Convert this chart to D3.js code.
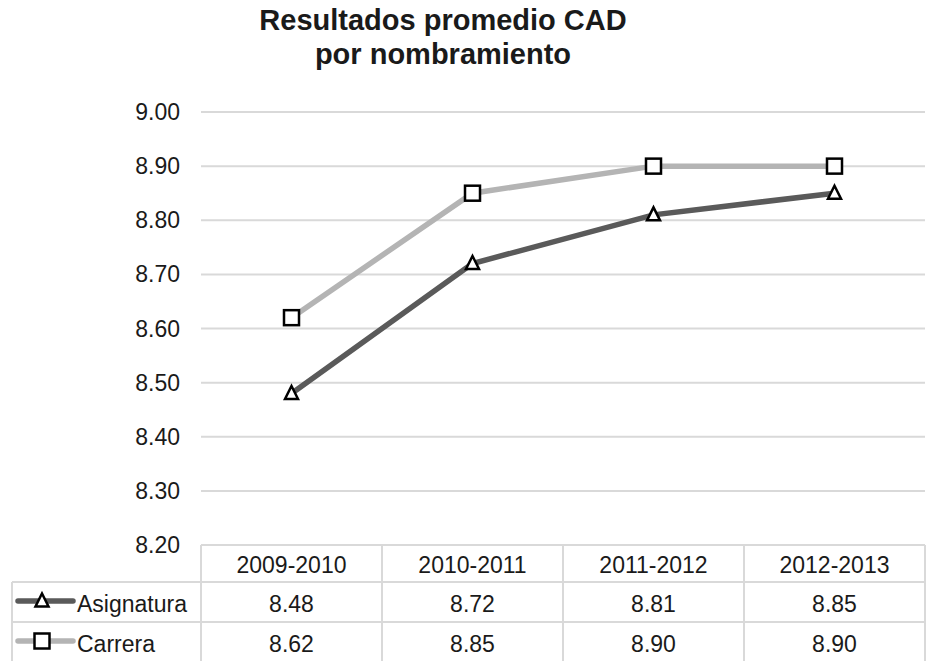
<!DOCTYPE html>
<html>
<head>
<meta charset="utf-8">
<script src="https://cdn.jsdelivr.net/npm/d3@7"></script>
<style>
  body { margin: 0; background: #fff; }
  text { font-family: "Liberation Sans", Arial, sans-serif; fill: #1a1a1a; }
</style>
</head>
<body>
<svg width="926" height="661"></svg>
<script>
var years = ["2009-2010", "2010-2011", "2011-2012", "2012-2013"];
var asignatura = [8.48, 8.72, 8.81, 8.85];
var carrera = [8.62, 8.85, 8.90, 8.90];
var yTicks = [8.2, 8.3, 8.4, 8.5, 8.6, 8.7, 8.8, 8.9, 9.0];

var series = [
  {name: "Asignatura", values: asignatura, color: "#5a5a5a", marker: "triangle"},
  {name: "Carrera", values: carrera, color: "#b4b4b4", marker: "square"}
];

var svg = d3.select("svg"),
    width = +svg.attr("width"),
    height = +svg.attr("height");

var plotLeft = 201, plotRight = 925, plotTop = 112, plotBottom = 545;
var gridColor = "#d9d9d9";
var fs = "23px";

var x = d3.scaleBand().domain(years).range([plotLeft, plotRight]);
var y = d3.scaleLinear().domain([8.2, 9.0]).range([plotBottom, plotTop]);

// title
svg.append("text").attr("x", 443).attr("y", 30).attr("text-anchor", "middle")
   .style("font-size", "29px").style("font-weight", "bold").text("Resultados promedio CAD");
svg.append("text").attr("x", 443).attr("y", 64).attr("text-anchor", "middle")
   .style("font-size", "29px").style("font-weight", "bold").text("por nombramiento");

// gridlines
svg.append("g").selectAll("line").data(yTicks.slice(1)).enter().append("line")
   .attr("x1", plotLeft).attr("x2", plotRight)
   .attr("y1", function(d) { return y(d); }).attr("y2", function(d) { return y(d); })
   .style("stroke", gridColor).style("stroke-width", 2);

// y labels
svg.append("g").selectAll("text").data(yTicks).enter().append("text")
   .attr("x", 180).attr("y", function(d) { return y(d) + 8; })
   .attr("text-anchor", "end").style("font-size", fs)
   .text(function(d) { return d3.format(".2f")(d); });

// data table
var rowY = [545, 582, 622, 661];
var tbl = svg.append("g");
tbl.append("line").attr("x1", plotLeft).attr("x2", plotRight).attr("y1", rowY[0]).attr("y2", rowY[0]);
tbl.append("line").attr("x1", 12).attr("x2", plotRight).attr("y1", rowY[1]).attr("y2", rowY[1]);
tbl.append("line").attr("x1", 12).attr("x2", plotRight).attr("y1", rowY[2]).attr("y2", rowY[2]);
tbl.append("line").attr("x1", 12).attr("x2", 12).attr("y1", rowY[1]).attr("y2", height);
years.forEach(function(d) {
  tbl.append("line").attr("x1", x(d)).attr("x2", x(d)).attr("y1", rowY[0]).attr("y2", height);
});
tbl.append("line").attr("x1", plotRight).attr("x2", plotRight).attr("y1", rowY[0]).attr("y2", height);
tbl.selectAll("line").style("stroke", gridColor).style("stroke-width", 2);

tbl.selectAll("text.hdr").data(years).enter().append("text").attr("class", "hdr")
   .attr("x", function(d) { return x(d) + x.bandwidth() / 2; }).attr("y", 573)
   .attr("text-anchor", "middle").style("font-size", fs).text(function(d) { return d; });

function marker(g, type, cx, cy) {
  if (type == "square") {
    g.append("rect").attr("x", cx - 7.5).attr("y", cy - 7.5).attr("width", 15).attr("height", 15)
     .style("fill", "#fff").style("stroke", "#000").style("stroke-width", 2.5);
  } else {
    g.append("path").attr("d", "M" + cx + "," + (cy - 7.5) + "L" + (cx + 6.5) + "," + (cy + 5.5) + "L" + (cx - 6.5) + "," + (cy + 5.5) + "Z")
     .style("fill", "#fff").style("stroke", "#000").style("stroke-width", 2.5).style("stroke-linejoin", "miter");
  }
}

series.forEach(function(s, i) {
  var ty = rowY[i + 1] + 30;
  var my = rowY[i + 1] + 19;
  tbl.append("line").attr("x1", 18).attr("x2", 73).attr("y1", my).attr("y2", my)
     .style("stroke", s.color).style("stroke-width", 5.5).style("stroke-linecap", "round");
  marker(tbl, s.marker, 42, my);
  tbl.append("text").attr("x", 77).attr("y", ty).style("font-size", fs).text(s.name);
  tbl.selectAll("text.v" + i).data(s.values).enter().append("text").attr("class", "v" + i)
     .attr("x", function(d, j) { return x(years[j]) + x.bandwidth() / 2; }).attr("y", ty)
     .attr("text-anchor", "middle").style("font-size", fs)
     .text(function(d) { return d3.format(".2f")(d); });
});

// lines
var line = d3.line()
  .x(function(d, j) { return x(years[j]) + x.bandwidth() / 2; })
  .y(function(d) { return y(d); });

series.slice().reverse().forEach(function(s) {
  svg.append("path").datum(s.values).attr("d", line)
     .style("fill", "none").style("stroke", s.color).style("stroke-width", 5.5);
});
series.forEach(function(s) {
  var g = svg.append("g");
  s.values.forEach(function(d, j) {
    marker(g, s.marker, x(years[j]) + x.bandwidth() / 2, y(d));
  });
});
</script>
</body>
</html>
